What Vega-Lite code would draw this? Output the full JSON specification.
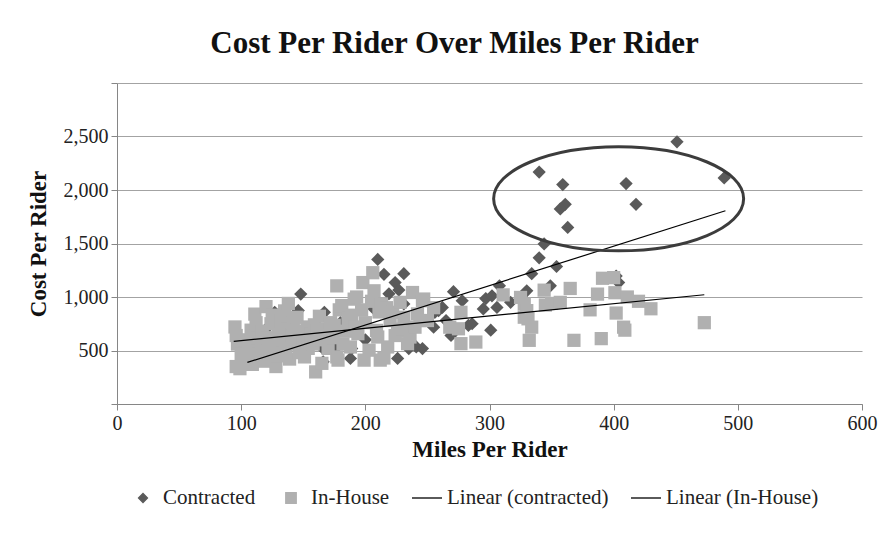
{
  "$schema": "https://vega.github.io/schema/vega-lite/v6.json",
  "width": 745,
  "height": 321,
  "autosize": {"type": "none"},
  "padding": {"left": 117, "top": 83, "right": 31, "bottom": 142},
  "background": "white",
  "title": {
    "text": "Cost Per Rider Over Miles Per Rider",
    "font": "Liberation Serif",
    "fontSize": 31,
    "fontWeight": "bold",
    "color": "#111111",
    "offset": 13,
    "dx": -35
  },
  "config": {
    "view": {"stroke": null},
    "axis": {
      "labelFont": "Liberation Serif",
      "labelFontSize": 20,
      "labelColor": "#222222",
      "titleFont": "Liberation Serif",
      "titleFontSize": 23,
      "titleFontWeight": "bold",
      "titleColor": "#111111",
      "domainColor": "#868686",
      "tickColor": "#868686",
      "tickSize": 6,
      "labelFlush": false,
      "labelOverlap": false
    }
  },
  "datasets": {
    "points": [
      {"miles": 127, "cost": 857, "series": "Contracted"},
      {"miles": 146, "cost": 873, "series": "Contracted"},
      {"miles": 148, "cost": 1027, "series": "Contracted"},
      {"miles": 152, "cost": 690, "series": "Contracted"},
      {"miles": 156, "cost": 626, "series": "Contracted"},
      {"miles": 120, "cost": 700, "series": "Contracted"},
      {"miles": 180, "cost": 760, "series": "Contracted"},
      {"miles": 200, "cost": 600, "series": "Contracted"},
      {"miles": 238, "cost": 700, "series": "Contracted"},
      {"miles": 167, "cost": 857, "series": "Contracted"},
      {"miles": 166, "cost": 518, "series": "Contracted"},
      {"miles": 173, "cost": 510, "series": "Contracted"},
      {"miles": 166, "cost": 394, "series": "Contracted"},
      {"miles": 176, "cost": 518, "series": "Contracted"},
      {"miles": 189, "cost": 518, "series": "Contracted"},
      {"miles": 188, "cost": 426, "series": "Contracted"},
      {"miles": 207, "cost": 888, "series": "Contracted"},
      {"miles": 210, "cost": 1351, "series": "Contracted"},
      {"miles": 215, "cost": 1212, "series": "Contracted"},
      {"miles": 219, "cost": 1030, "series": "Contracted"},
      {"miles": 224, "cost": 1135, "series": "Contracted"},
      {"miles": 227, "cost": 1065, "series": "Contracted"},
      {"miles": 231, "cost": 1218, "series": "Contracted"},
      {"miles": 231, "cost": 935, "series": "Contracted"},
      {"miles": 226, "cost": 426, "series": "Contracted"},
      {"miles": 235, "cost": 518, "series": "Contracted"},
      {"miles": 241, "cost": 533, "series": "Contracted"},
      {"miles": 246, "cost": 518, "series": "Contracted"},
      {"miles": 255, "cost": 718, "series": "Contracted"},
      {"miles": 256, "cost": 857, "series": "Contracted"},
      {"miles": 259, "cost": 873, "series": "Contracted"},
      {"miles": 262, "cost": 903, "series": "Contracted"},
      {"miles": 265, "cost": 780, "series": "Contracted"},
      {"miles": 269, "cost": 641, "series": "Contracted"},
      {"miles": 271, "cost": 1050, "series": "Contracted"},
      {"miles": 278, "cost": 965, "series": "Contracted"},
      {"miles": 283, "cost": 734, "series": "Contracted"},
      {"miles": 286, "cost": 750, "series": "Contracted"},
      {"miles": 295, "cost": 888, "series": "Contracted"},
      {"miles": 297, "cost": 985, "series": "Contracted"},
      {"miles": 301, "cost": 690, "series": "Contracted"},
      {"miles": 302, "cost": 1011, "series": "Contracted"},
      {"miles": 306, "cost": 903, "series": "Contracted"},
      {"miles": 308, "cost": 1104, "series": "Contracted"},
      {"miles": 317, "cost": 950, "series": "Contracted"},
      {"miles": 330, "cost": 1058, "series": "Contracted"},
      {"miles": 334, "cost": 1218, "series": "Contracted"},
      {"miles": 340, "cost": 1366, "series": "Contracted"},
      {"miles": 344, "cost": 1496, "series": "Contracted"},
      {"miles": 349, "cost": 1104, "series": "Contracted"},
      {"miles": 354, "cost": 1285, "series": "Contracted"},
      {"miles": 340, "cost": 2168, "series": "Contracted"},
      {"miles": 359, "cost": 2051, "series": "Contracted"},
      {"miles": 361, "cost": 1866, "series": "Contracted"},
      {"miles": 357, "cost": 1823, "series": "Contracted"},
      {"miles": 363, "cost": 1650, "series": "Contracted"},
      {"miles": 410, "cost": 2060, "series": "Contracted"},
      {"miles": 418, "cost": 1866, "series": "Contracted"},
      {"miles": 451, "cost": 2450, "series": "Contracted"},
      {"miles": 489, "cost": 2113, "series": "Contracted"},
      {"miles": 402, "cost": 1196, "series": "Contracted"},
      {"miles": 404, "cost": 1135, "series": "Contracted"},
      {"miles": 95, "cost": 720, "series": "In-House"},
      {"miles": 96, "cost": 640, "series": "In-House"},
      {"miles": 97, "cost": 560, "series": "In-House"},
      {"miles": 96, "cost": 350, "series": "In-House"},
      {"miles": 99, "cost": 330, "series": "In-House"},
      {"miles": 100, "cost": 470, "series": "In-House"},
      {"miles": 103, "cost": 600, "series": "In-House"},
      {"miles": 104, "cost": 410, "series": "In-House"},
      {"miles": 106, "cost": 520, "series": "In-House"},
      {"miles": 108, "cost": 690, "series": "In-House"},
      {"miles": 109, "cost": 370, "series": "In-House"},
      {"miles": 111, "cost": 840, "series": "In-House"},
      {"miles": 112, "cost": 760, "series": "In-House"},
      {"miles": 113, "cost": 620, "series": "In-House"},
      {"miles": 114, "cost": 470, "series": "In-House"},
      {"miles": 116, "cost": 560, "series": "In-House"},
      {"miles": 117, "cost": 680, "series": "In-House"},
      {"miles": 119, "cost": 400, "series": "In-House"},
      {"miles": 120, "cost": 910, "series": "In-House"},
      {"miles": 121, "cost": 620, "series": "In-House"},
      {"miles": 122, "cost": 500, "series": "In-House"},
      {"miles": 124, "cost": 750, "series": "In-House"},
      {"miles": 125, "cost": 830, "series": "In-House"},
      {"miles": 127, "cost": 560, "series": "In-House"},
      {"miles": 128, "cost": 350, "series": "In-House"},
      {"miles": 129, "cost": 450, "series": "In-House"},
      {"miles": 130, "cost": 660, "series": "In-House"},
      {"miles": 132, "cost": 780, "series": "In-House"},
      {"miles": 133, "cost": 600, "series": "In-House"},
      {"miles": 135, "cost": 870, "series": "In-House"},
      {"miles": 136, "cost": 520, "series": "In-House"},
      {"miles": 137, "cost": 700, "series": "In-House"},
      {"miles": 138, "cost": 940, "series": "In-House"},
      {"miles": 139, "cost": 420, "series": "In-House"},
      {"miles": 141, "cost": 640, "series": "In-House"},
      {"miles": 142, "cost": 760, "series": "In-House"},
      {"miles": 144, "cost": 560, "series": "In-House"},
      {"miles": 145, "cost": 810, "series": "In-House"},
      {"miles": 147, "cost": 480, "series": "In-House"},
      {"miles": 148, "cost": 680, "series": "In-House"},
      {"miles": 150, "cost": 600, "series": "In-House"},
      {"miles": 151, "cost": 440, "series": "In-House"},
      {"miles": 153, "cost": 720, "series": "In-House"},
      {"miles": 154, "cost": 520, "series": "In-House"},
      {"miles": 156, "cost": 650, "series": "In-House"},
      {"miles": 158, "cost": 560, "series": "In-House"},
      {"miles": 159, "cost": 740, "series": "In-House"},
      {"miles": 160, "cost": 300, "series": "In-House"},
      {"miles": 161, "cost": 680, "series": "In-House"},
      {"miles": 163, "cost": 820, "series": "In-House"},
      {"miles": 164, "cost": 600, "series": "In-House"},
      {"miles": 165, "cost": 380, "series": "In-House"},
      {"miles": 168, "cost": 700, "series": "In-House"},
      {"miles": 170, "cost": 520, "series": "In-House"},
      {"miles": 172, "cost": 760, "series": "In-House"},
      {"miles": 174, "cost": 620, "series": "In-House"},
      {"miles": 175, "cost": 735, "series": "In-House"},
      {"miles": 177, "cost": 440, "series": "In-House"},
      {"miles": 178, "cost": 410, "series": "In-House"},
      {"miles": 177, "cost": 1104, "series": "In-House"},
      {"miles": 179, "cost": 880, "series": "In-House"},
      {"miles": 181, "cost": 920, "series": "In-House"},
      {"miles": 182, "cost": 560, "series": "In-House"},
      {"miles": 184, "cost": 680, "series": "In-House"},
      {"miles": 186, "cost": 800, "series": "In-House"},
      {"miles": 188, "cost": 533, "series": "In-House"},
      {"miles": 189, "cost": 830, "series": "In-House"},
      {"miles": 191, "cost": 980, "series": "In-House"},
      {"miles": 192, "cost": 720, "series": "In-House"},
      {"miles": 193, "cost": 1000, "series": "In-House"},
      {"miles": 194, "cost": 657, "series": "In-House"},
      {"miles": 197, "cost": 880, "series": "In-House"},
      {"miles": 198, "cost": 1135, "series": "In-House"},
      {"miles": 199, "cost": 410, "series": "In-House"},
      {"miles": 200, "cost": 760, "series": "In-House"},
      {"miles": 203, "cost": 503, "series": "In-House"},
      {"miles": 205, "cost": 960, "series": "In-House"},
      {"miles": 206, "cost": 1227, "series": "In-House"},
      {"miles": 207, "cost": 1058, "series": "In-House"},
      {"miles": 209, "cost": 688, "series": "In-House"},
      {"miles": 210, "cost": 626, "series": "In-House"},
      {"miles": 211, "cost": 860, "series": "In-House"},
      {"miles": 212, "cost": 410, "series": "In-House"},
      {"miles": 213, "cost": 935, "series": "In-House"},
      {"miles": 215, "cost": 430, "series": "In-House"},
      {"miles": 217, "cost": 900, "series": "In-House"},
      {"miles": 218, "cost": 533, "series": "In-House"},
      {"miles": 220, "cost": 780, "series": "In-House"},
      {"miles": 222, "cost": 857, "series": "In-House"},
      {"miles": 224, "cost": 640, "series": "In-House"},
      {"miles": 226, "cost": 688, "series": "In-House"},
      {"miles": 228, "cost": 950, "series": "In-House"},
      {"miles": 230, "cost": 700, "series": "In-House"},
      {"miles": 231, "cost": 811, "series": "In-House"},
      {"miles": 234, "cost": 564, "series": "In-House"},
      {"miles": 236, "cost": 626, "series": "In-House"},
      {"miles": 238, "cost": 1042, "series": "In-House"},
      {"miles": 240, "cost": 718, "series": "In-House"},
      {"miles": 242, "cost": 842, "series": "In-House"},
      {"miles": 244, "cost": 780, "series": "In-House"},
      {"miles": 246, "cost": 965, "series": "In-House"},
      {"miles": 247, "cost": 981, "series": "In-House"},
      {"miles": 250, "cost": 780, "series": "In-House"},
      {"miles": 255, "cost": 900, "series": "In-House"},
      {"miles": 268, "cost": 718, "series": "In-House"},
      {"miles": 275, "cost": 703, "series": "In-House"},
      {"miles": 277, "cost": 857, "series": "In-House"},
      {"miles": 277, "cost": 564, "series": "In-House"},
      {"miles": 289, "cost": 579, "series": "In-House"},
      {"miles": 311, "cost": 1020, "series": "In-House"},
      {"miles": 325, "cost": 996, "series": "In-House"},
      {"miles": 328, "cost": 811, "series": "In-House"},
      {"miles": 328, "cost": 935, "series": "In-House"},
      {"miles": 330, "cost": 873, "series": "In-House"},
      {"miles": 331, "cost": 796, "series": "In-House"},
      {"miles": 334, "cost": 718, "series": "In-House"},
      {"miles": 332, "cost": 595, "series": "In-House"},
      {"miles": 344, "cost": 1064, "series": "In-House"},
      {"miles": 345, "cost": 925, "series": "In-House"},
      {"miles": 350, "cost": 940, "series": "In-House"},
      {"miles": 357, "cost": 950, "series": "In-House"},
      {"miles": 365, "cost": 1080, "series": "In-House"},
      {"miles": 368, "cost": 595, "series": "In-House"},
      {"miles": 381, "cost": 880, "series": "In-House"},
      {"miles": 387, "cost": 1027, "series": "In-House"},
      {"miles": 390, "cost": 611, "series": "In-House"},
      {"miles": 391, "cost": 1175, "series": "In-House"},
      {"miles": 400, "cost": 1181, "series": "In-House"},
      {"miles": 401, "cost": 1040, "series": "In-House"},
      {"miles": 402, "cost": 850, "series": "In-House"},
      {"miles": 408, "cost": 718, "series": "In-House"},
      {"miles": 409, "cost": 690, "series": "In-House"},
      {"miles": 411, "cost": 1000, "series": "In-House"},
      {"miles": 420, "cost": 960, "series": "In-House"},
      {"miles": 430, "cost": 890, "series": "In-House"},
      {"miles": 473, "cost": 760, "series": "In-House"}
    ],
    "trend": [
      {"miles": 105, "cost": 389, "series": "Linear (contracted)"},
      {"miles": 490, "cost": 1806, "series": "Linear (contracted)"},
      {"miles": 94, "cost": 586, "series": "Linear (In-House)"},
      {"miles": 473, "cost": 1021, "series": "Linear (In-House)"}
    ],
    "note": [
      {"miles": 404, "cost": 1918}
    ]
  },
  "layer": [
    {
      "data": {"name": "points"},
      "mark": {"type": "point", "filled": true, "size": 175, "opacity": 1},
      "encoding": {
        "x": {
          "field": "miles",
          "type": "quantitative",
          "scale": {"domain": [0, 600], "nice": false, "zero": true},
          "axis": {
            "values": [0, 100, 200, 300, 400, 500, 600],
            "grid": false,
            "title": "Miles Per Rider",
            "labelPadding": 3,
            "titlePadding": 5
          }
        },
        "y": {
          "field": "cost",
          "type": "quantitative",
          "scale": {"domain": [0, 3000], "nice": false},
          "axis": {
            "values": [0, 500, 1000, 1500, 2000, 2500, 3000],
            "labelExpr": "datum.value == 0 || datum.value == 3000 ? '' : format(datum.value, ',')",
            "grid": true,
            "gridColor": "#a3a3a3",
            "gridOpacity": 1,
            "title": "Cost Per Rider",
            "labelPadding": 3,
            "titlePadding": 13
          }
        },
        "color": {
          "field": "series",
          "type": "nominal",
          "scale": {
            "domain": ["Contracted", "In-House", "Linear (contracted)", "Linear (In-House)"],
            "range": ["#5a5a5a", "#b0b0b0", "#000000", "#000000"]
          },
          "legend": {
            "title": null,
            "orient": "none",
            "legendX": 10,
            "legendY": 399,
            "direction": "horizontal",
            "labelFont": "Liberation Serif",
            "labelFontSize": 21,
            "labelColor": "#222222",
            "labelLimit": 400,
            "symbolSize": 900,
            "columnPadding": 19,
            "labelOffset": 4,
            "encoding": {
              "symbols": {
                "shape": {"value": {"expr": "datum.value == 'Contracted' ? 'diamond' : datum.value == 'In-House' ? 'square' : 'stroke'"}},
                "fill": {"value": {"expr": "datum.value == 'Contracted' ? '#5a5a5a' : datum.value == 'In-House' ? '#b0b0b0' : 'transparent'"}},
                "stroke": {"value": {"expr": "datum.value == 'Contracted' || datum.value == 'In-House' ? 'transparent' : '#000000'"}},
                "size": {"value": {"expr": "datum.value == 'Contracted' ? 80 : datum.value == 'In-House' ? 110 : 900"}},
                "strokeWidth": {"value": 1.3},
                "opacity": {"value": 1}
              }
            }
          }
        },
        "shape": {
          "field": "series",
          "type": "nominal",
          "scale": {"domain": ["Contracted", "In-House"], "range": ["diamond", "square"]},
          "legend": null
        }
      }
    },
    {
      "data": {"name": "trend"},
      "mark": {"type": "line", "strokeWidth": 1.2},
      "encoding": {
        "x": {"field": "miles", "type": "quantitative"},
        "y": {"field": "cost", "type": "quantitative"},
        "color": {"field": "series", "type": "nominal"}
      }
    },
    {
      "data": {"name": "note"},
      "mark": {
        "type": "point",
        "shape": "M-1,0A1,0.416,0,1,1,1,0A1,0.416,0,1,1,-1,0Z",
        "size": 62500,
        "filled": false,
        "stroke": "#3c3c3c",
        "strokeWidth": 3,
        "opacity": 1
      },
      "encoding": {
        "x": {"field": "miles", "type": "quantitative"},
        "y": {"field": "cost", "type": "quantitative"}
      }
    }
  ]
}
